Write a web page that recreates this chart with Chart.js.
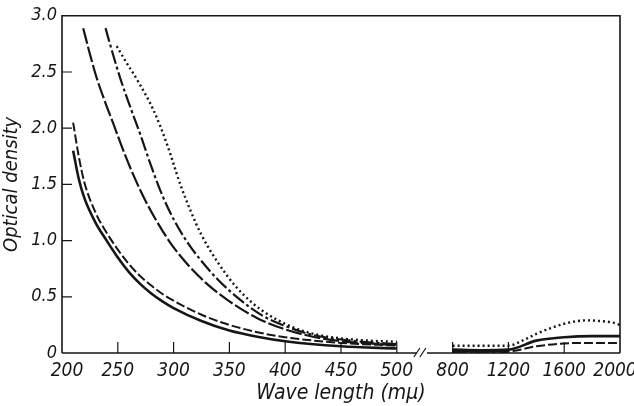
<!DOCTYPE html>
<html>
<head>
<meta charset="utf-8">
<script src="https://cdn.jsdelivr.net/npm/chart.js@4"></script>
<style>
  html, body { margin: 0; padding: 0; background: #fff; }
  #wrap { width: 634px; height: 406px; }
</style>
</head>
<body>
<div id="wrap"><canvas id="spectre" width="634" height="406"></canvas></div>
<script>
// longueurs d'onde (mμ) et densités optiques de chaque courbe
const solidNm  = [210, 215, 220, 230, 240, 250, 260, 270, 280, 290, 300, 325, 350, 375, 400, 450, 500, 800, 1000, 1200, 1400, 1600, 1800, 2000];
const solidOD  = [1.80, 1.55, 1.38, 1.16, 1.00, 0.85, 0.72, 0.615, 0.53, 0.46, 0.40, 0.285, 0.20, 0.145, 0.105, 0.06, 0.04, 0.03, 0.025, 0.03, 0.11, 0.14, 0.15, 0.15];

const dashNm   = [210, 215, 220, 230, 240, 250, 260, 270, 280, 290, 300, 325, 350, 375, 400, 450, 500, 800, 1000, 1200, 1400, 1600, 1800, 2000];
const dashOD   = [2.05, 1.75, 1.52, 1.25, 1.07, 0.92, 0.79, 0.685, 0.60, 0.525, 0.465, 0.34, 0.25, 0.185, 0.14, 0.09, 0.065, 0.02, 0.015, 0.015, 0.06, 0.085, 0.09, 0.09];

const longNm   = [219, 225, 231, 238, 246, 255, 265, 275, 285, 300, 325, 350, 375, 400, 425, 450, 475, 500, 800, 1000, 1200];
const longOD   = [2.89, 2.66, 2.45, 2.25, 2.04, 1.80, 1.56, 1.35, 1.17, 0.94, 0.66, 0.46, 0.31, 0.21, 0.145, 0.105, 0.085, 0.07, 0.015, 0.012, 0.015];

const dotDashNm = [239, 245, 252, 260, 270, 280, 290, 300, 312, 324, 340, 360, 380, 400, 425, 450, 475, 500, 800, 1000, 1200];
const dotDashOD = [2.89, 2.68, 2.45, 2.22, 1.95, 1.66, 1.40, 1.19, 0.99, 0.83, 0.65, 0.47, 0.33, 0.24, 0.16, 0.12, 0.095, 0.08, 0.01, 0.008, 0.01];

const dotNm    = [249, 258, 268, 282, 294, 306, 315, 325, 340, 355, 370, 385, 400, 415, 430, 450, 475, 500, 800, 1000, 1200, 1300, 1400, 1500, 1600, 1700, 1760, 1850, 1950, 2000];
const dotOD    = [2.73, 2.58, 2.42, 2.16, 1.86, 1.50, 1.27, 1.05, 0.80, 0.60, 0.45, 0.34, 0.26, 0.20, 0.16, 0.13, 0.11, 0.10, 0.065, 0.065, 0.065, 0.11, 0.17, 0.22, 0.26, 0.285, 0.29, 0.285, 0.27, 0.25];

// graduations
const xTickLabels = ['200', '250', '300', '350', '400', '450', '500', '800', '1200', '1600', '2000'];
const yTickLabels = ['0', '0.5', '1.0', '1.5', '2.0', '2.5', '3.0'];

// axe coupé : 200-500 par pas de 50, puis 800-2000 par pas de 400
function toUnit(nm) {
  return nm <= 500 ? (nm - 200) / 50 : 7 + (nm - 800) / 400;
}

function points(nm, od) {
  const pts = [];
  nm.forEach((l, i) => {
    if (l >= 800 && (i === 0 || nm[i - 1] <= 500)) pts.push({ x: 6.5, y: null }); // trou à la coupure
    pts.push({ x: toUnit(l), y: od[i] });
  });
  return pts;
}

const ink = '#161616';
const family = "'Liberation Sans Narrow', 'DejaVu Sans Condensed', sans-serif";

function serie(nm, od, width, dash) {
  return {
    data: points(nm, od),
    borderColor: ink,
    borderWidth: width,
    borderDash: dash,
    pointRadius: 0,
    fill: false,
    spanGaps: false,
    cubicInterpolationMode: 'monotone'
  };
}

// cadre, coupure de l'axe, graduations vers l'intérieur et libellés de l'axe x
const cadre = {
  id: 'cadre',
  afterDraw(chart) {
    const { ctx, chartArea: a, scales: { x, y } } = chart;
    ctx.save();
    ctx.strokeStyle = ink;
    ctx.lineWidth = 1.6;
    ctx.beginPath();
    ctx.moveTo(a.left, a.bottom);
    ctx.lineTo(a.left, a.top);
    ctx.lineTo(a.right, a.top);
    ctx.lineTo(a.right, a.bottom);
    const c1 = x.getPixelForValue(6.36), c2 = x.getPixelForValue(6.54);
    ctx.moveTo(a.left, a.bottom);
    ctx.lineTo(c1, a.bottom);
    ctx.moveTo(c2, a.bottom);
    ctx.lineTo(a.right, a.bottom);
    ctx.stroke();

    ctx.lineWidth = 1.2;
    ctx.beginPath();
    [c1 - 1, c1 + 5].forEach(px => {
      ctx.moveTo(px - 2, a.bottom + 4);
      ctx.lineTo(px + 4, a.bottom - 5);
    });
    for (let v = 1; v <= 9; v++) {
      const px = x.getPixelForValue(v);
      ctx.moveTo(px, a.bottom);
      ctx.lineTo(px, a.bottom - 11);
    }
    for (let v = 0.5; v < 3; v += 0.5) {
      const py = y.getPixelForValue(v);
      ctx.moveTo(a.left, py);
      ctx.lineTo(a.left + 10, py);
    }
    ctx.stroke();

    // libellés x : le premier et le dernier rentrent un peu dans le cadre
    ctx.fillStyle = ink;
    ctx.font = `italic 19px ${family}`;
    ctx.textAlign = 'center';
    ctx.textBaseline = 'middle';
    xTickLabels.forEach((t, i) => {
      const nudge = i === 0 ? 5 : i === xTickLabels.length - 1 ? -5 : 0;
      ctx.fillText(t, x.getPixelForValue(i) + nudge, a.bottom + 18);
    });
    ctx.restore();
  }
};

new Chart(document.getElementById('spectre'), {
  type: 'line',
  data: {
    datasets: [
      serie(solidNm, solidOD, 2.6, []),
      serie(dashNm, dashOD, 2, [9, 3]),
      serie(longNm, longOD, 2.2, [16, 3]),
      serie(dotDashNm, dotDashOD, 2.2, [14, 3, 3, 3]),
      serie(dotNm, dotOD, 2.4, [2, 3])
    ]
  },
  options: {
    responsive: false,
    animation: false,
    layout: { padding: { top: 15, right: 14, left: 0, bottom: 0 } },
    plugins: { legend: { display: false }, tooltip: { enabled: false } },
    scales: {
      x: {
        type: 'linear',
        min: 0,
        max: 10,
        afterFit(s) { s.height = 53; s.paddingLeft = 0; s.paddingRight = 0; },
        ticks: { display: false },
        grid: { display: false, drawTicks: false },
        border: { display: false },
        title: {
          display: true,
          text: 'Wave length (mμ)',
          color: ink,
          padding: { top: 0, bottom: 0 },
          font: { family, style: 'italic', size: 21 }
        }
      },
      y: {
        type: 'linear',
        min: 0,
        max: 3,
        afterFit(s) { s.width = 62; },
        afterBuildTicks(s) { s.ticks = yTickLabels.map((t, i) => ({ value: i * 0.5 })); },
        ticks: {
          padding: 5,
          color: ink,
          font: { family, style: 'italic', size: 18 },
          callback: (v, i) => yTickLabels[i]
        },
        grid: { display: false, drawTicks: false },
        border: { display: false },
        title: {
          display: true,
          text: 'Optical density',
          color: ink,
          padding: { top: 0, bottom: 0 },
          font: { family, style: 'italic', size: 20 }
        }
      }
    }
  },
  plugins: [cadre]
});
</script>
</body>
</html>
